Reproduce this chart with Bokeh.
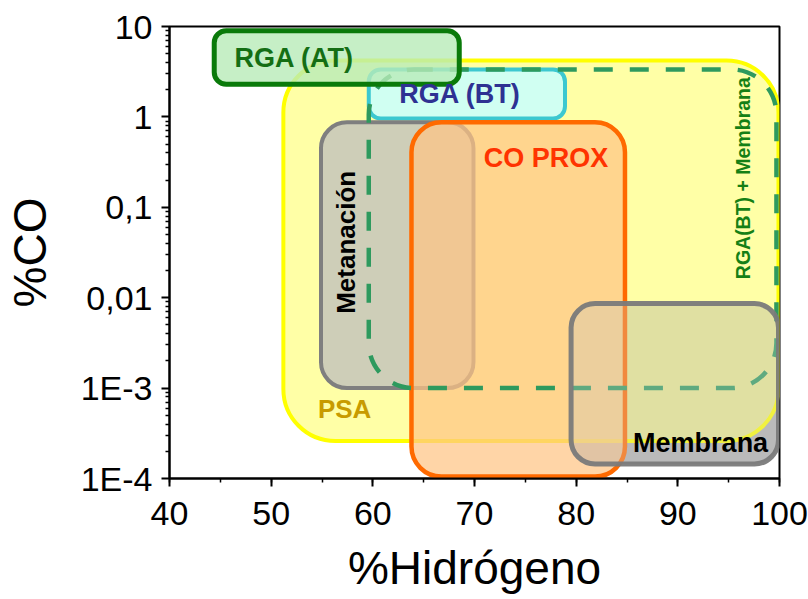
from math import pi

from bokeh.core.properties import value
from bokeh.embed import file_html
from bokeh.models import FixedTicker, Range1d, SingleIntervalTicker
from bokeh.plotting import figure
from bokeh.resources import INLINE

# Operating windows of each H2 purification / CO removal technology
zones = ["PSA", "RGA (AT)", "RGA (BT)", "Metanación", "CO PROX", "Membrana",
         "RGA(BT) + Membrana"]
h2_min = [51.2, 44.4, 59.6, 54.9, 63.8, 79.5, 59.6]      # %H2, lower bound
h2_max = [99.9, 68.5, 78.9, 69.9, 84.8, 99.9, 99.7]      # %H2, upper bound
co_min = [2.6e-4, 2.3, 0.96, 1.0e-3, 1.05e-4, 1.45e-4, 1.0e-3]  # %CO, lower bound
co_max = [4.2, 9.0, 3.35, 0.87, 0.87, 8.6e-3, 3.35]       # %CO, upper bound

# Label anchor for each zone
label_h2 = [54.6, 46.4, 62.6, 57.4, 70.9, 85.6, 96.4]
label_co = [5.9e-4, 4.5, 1.8, 0.041, 0.35, 2.5e-4, 0.21]

# Axis ticks
x_ticks = [40, 50, 60, 70, 80, 90, 100]
y_ticks = [1e-4, 1e-3, 1e-2, 1e-1, 1, 10]
y_tick_labels = ["1E-4", "1E-3", "0,01", "0,1", "1", "10"]

FONT = value("Liberation Sans")

p = figure(width=808, height=599, output_backend="svg", toolbar_location=None,
           x_range=Range1d(40, 100), y_range=Range1d(1e-4, 10), y_axis_type="log",
           min_border_left=168, min_border_right=29, min_border_top=26,
           min_border_bottom=121, background_fill_color="white",
           border_fill_color="white", outline_line_color="black",
           outline_line_width=2)
p.grid.visible = False


def zone(name):
    i = zones.index(name)
    return dict(left=[h2_min[i]], right=[h2_max[i]], bottom=[co_min[i]], top=[co_max[i]])


# Membrane base (dark grey, seen outside the PSA window)
p.quad(**zone("Membrana"), fill_color="#B0B0B0", fill_alpha=1.0, line_color=None,
       border_radius=24)
# PSA
p.quad(**zone("PSA"), fill_color="#FFFF80", fill_alpha=0.7, line_color="#FFFF00",
       line_width=4, border_radius=52)
# Low temperature WGS
p.quad(**zone("RGA (BT)"), fill_color="#C8FFFF", fill_alpha=0.85, line_color="#3CC8D0",
       line_width=4, border_radius=12)
# Methanation
p.quad(**zone("Metanación"), fill_color="#BEBEBE", fill_alpha=0.75, line_color="#7F7F7F",
       line_width=4, border_radius=26)
# Preferential oxidation
p.quad(**zone("CO PROX"), fill_color="#FFC585", fill_alpha=0.72, line_color="#FF6A00",
       line_width=4.5, border_radius=30)
# WGS(BT) + membrane (dashed outline)
p.quad(**zone("RGA(BT) + Membrana"), fill_color=None, line_color="#2E9A5E",
       line_width=4.5, line_dash="19 17", border_radius=45)
# Membrane overlay and outline
p.quad(**zone("Membrana"), fill_color="#D0D0D0", fill_alpha=0.3, line_color="#7A7A7A",
       line_alpha=0.95, line_width=5, border_radius=24)
# High temperature WGS
p.quad(**zone("RGA (AT)"), fill_color="#B8EBB8", fill_alpha=0.8, line_color="#0A7A0A",
       line_width=5, border_radius=12)

# Zone labels
label_color = {"PSA": "#C89B00", "RGA (AT)": "#146E14", "RGA (BT)": "#2E3192",
               "Metanación": "#000000", "CO PROX": "#FF3300", "Membrana": "#000000",
               "RGA(BT) + Membrana": "#158015"}
label_size = {"PSA": "26px", "RGA (AT)": "27px", "RGA (BT)": "27px",
              "Metanación": "26px", "CO PROX": "27px", "Membrana": "27px",
              "RGA(BT) + Membrana": "19.5px"}
for i, name in enumerate(zones):
    vertical = name in ("Metanación", "RGA(BT) + Membrana")
    p.text(x=[label_h2[i]], y=[label_co[i]], text=[name], text_font=FONT,
           text_font_style="bold", text_font_size=label_size[name],
           text_color=label_color[name], angle=pi / 2 if vertical else 0,
           text_align="center" if vertical else "left", text_baseline="middle")

# Axes
p.xaxis.ticker = SingleIntervalTicker(interval=10, num_minor_ticks=2)
minor = [m * d for d in [1e-4, 1e-3, 1e-2, 1e-1, 1] for m in range(2, 10)]
p.yaxis.ticker = FixedTicker(ticks=y_ticks, minor_ticks=minor)
p.yaxis.major_label_overrides = {t: s for t, s in zip(y_ticks, y_tick_labels)}

for ax in (p.xaxis, p.yaxis):
    ax.axis_line_width = 2
    ax.axis_line_color = "black"
    ax.major_tick_line_width = 2
    ax.major_tick_line_color = "black"
    ax.minor_tick_line_width = 1.5
    ax.minor_tick_line_color = "black"
    ax.major_tick_in = 0
    ax.major_tick_out = 8
    ax.minor_tick_in = 0
    ax.minor_tick_out = 4
    ax.major_label_text_font = "Liberation Sans"
    ax.major_label_text_font_size = "34px"
    ax.major_label_text_color = "black"
    ax.axis_label_text_font = "Liberation Sans"
    ax.axis_label_text_font_style = "normal"
    ax.axis_label_text_font_size = "46px"
    ax.axis_label_text_color = "black"

p.xaxis.axis_label = "%Hidrógeno"
p.yaxis.axis_label = "%CO"
p.xaxis.major_label_standoff = 15
p.yaxis.major_label_standoff = 9
p.xaxis.axis_label_standoff = 14
p.yaxis.axis_label_standoff = 22

open("out.html", "w").write(file_html(p, INLINE))
